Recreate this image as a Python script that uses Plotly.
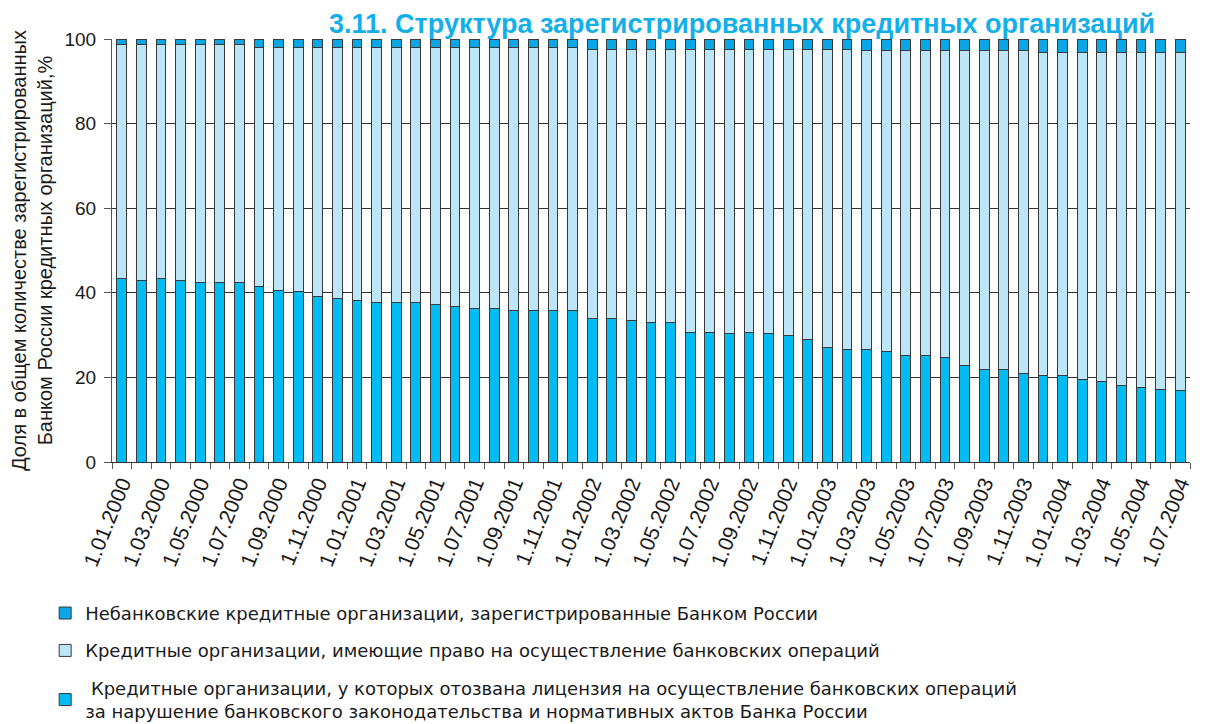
import plotly.graph_objects as go

dates = []
for yr in range(2000, 2005):
    for m in range(1, 13):
        if yr == 2004 and m > 7:
            break
        dates.append(f"1.{m:02d}.{yr}")

tick_labels = [d if i % 2 == 0 else "" for i, d in enumerate(dates)]

revoked = [43.4, 42.9, 43.4, 42.9, 42.4, 42.4, 42.4, 41.5, 40.5, 40.2,
           39.1, 38.7, 38.2, 37.7, 37.7, 37.7, 37.3, 36.8, 36.3, 36.3,
           35.9, 35.9, 35.9, 35.9, 34.0, 34.0, 33.5, 33.0, 33.0, 30.7,
           30.7, 30.3, 30.7, 30.3, 29.8, 28.9, 27.0, 26.6, 26.6, 26.1,
           25.1, 25.1, 24.6, 22.8, 21.9, 21.9, 20.9, 20.5, 20.5, 19.5,
           19.1, 18.2, 17.7, 17.2, 16.8]

licensed = [55.2, 55.7, 55.2, 55.7, 56.2, 56.2, 56.2, 56.6, 57.6, 57.9,
            59.0, 59.4, 59.9, 60.4, 60.4, 60.4, 60.8, 61.3, 61.8, 61.8,
            62.2, 62.2, 62.2, 62.2, 63.6, 63.6, 64.1, 64.6, 64.6, 66.9,
            66.9, 67.3, 66.9, 67.3, 67.8, 68.7, 70.6, 71.0, 70.6, 71.1,
            72.1, 72.1, 72.6, 74.4, 75.3, 75.3, 76.3, 76.2, 76.2, 77.2,
            77.6, 78.5, 79.0, 79.5, 79.9]

nonbank = [1.4, 1.4, 1.4, 1.4, 1.4, 1.4, 1.4, 1.9, 1.9, 1.9,
           1.9, 1.9, 1.9, 1.9, 1.9, 1.9, 1.9, 1.9, 1.9, 1.9,
           1.9, 1.9, 1.9, 1.9, 2.4, 2.4, 2.4, 2.4, 2.4, 2.4,
           2.4, 2.4, 2.4, 2.4, 2.4, 2.4, 2.4, 2.4, 2.8, 2.8,
           2.8, 2.8, 2.8, 2.8, 2.8, 2.8, 2.8, 3.3, 3.3, 3.3,
           3.3, 3.3, 3.3, 3.3, 3.3]

name_revoked = (" Кредитные организации, у которых отозвана лицензия на осуществление банковских операций"
                "<br>за нарушение банковского законодательства и нормативных актов Банка России")
name_licensed = "Кредитные организации, имеющие право на осуществление банковских операций"
name_nonbank = "Небанковские кредитные организации, зарегистрированные Банком России"

FONT = "Liberation Sans, Arial, sans-serif"
LEGFONT = "DejaVu Sans, Liberation Sans, sans-serif"
TXT = "#1a1a1a"
outline = dict(color="#3a3a3a", width=1)

fig = go.Figure()
fig.add_trace(go.Bar(x=dates, y=revoked, name=name_revoked, legendgroup="c", legendrank=3,
                     marker=dict(color="#00BCF2", line=outline)))
fig.add_trace(go.Bar(x=dates, y=licensed, name=name_licensed, legendgroup="b", legendrank=2,
                     marker=dict(color="#BDE5F8", line=outline)))
fig.add_trace(go.Bar(x=dates, y=nonbank, name=name_nonbank, legendgroup="a", legendrank=1,
                     marker=dict(color="#0AA6E6", line=outline)))

fig.update_layout(
    width=1203, height=716,
    barmode="stack", bargap=0.5,
    plot_bgcolor="white", paper_bgcolor="white",
    margin=dict(l=104, r=21, t=31, b=262, autoexpand=False),
    font=dict(family=FONT, size=18, color=TXT),
    showlegend=True,
    legend=dict(orientation="v", traceorder="grouped", tracegroupgap=11,
                x=-0.062, xanchor="left", y=-0.314, yanchor="top",
                font=dict(size=18, family=LEGFONT, color=TXT),
                bgcolor="rgba(0,0,0,0)", itemwidth=30),
    annotations=[dict(text="<b>3.11. Структура зарегистрированных кредитных организаций</b>",
                      xref="paper", yref="paper", x=0.584, y=1, xanchor="center", yanchor="bottom",
                      yshift=-2, showarrow=False,
                      font=dict(size=27, family=FONT, color="#13AFEA"))],
)

fig.update_xaxes(type="category", tickmode="array", tickvals=dates, ticktext=tick_labels,
                 tickangle=-68, tickson="boundaries", ticks="outside", ticklen=6,
                 tickcolor="#555", showline=True, linecolor="#333", linewidth=1,
                 showgrid=False, tickfont=dict(size=21, family=FONT, color=TXT))
fig.update_yaxes(range=[0, 100], tickvals=[0, 20, 40, 60, 80, 100], ticks="outside", ticklen=7,
                 tickcolor="#555", showline=True, linecolor="#555", linewidth=1,
                 showgrid=True, gridcolor="#333", gridwidth=1, zeroline=False,
                 ticklabelstandoff=4,
                 tickfont=dict(size=19, family=FONT, color=TXT),
                 title=dict(text="Доля в общем количестве зарегистрированных<br>Банком России кредитных организаций,%",
                            font=dict(size=20, family=FONT, color=TXT), standoff=10))

fig.write_html("out.html")
